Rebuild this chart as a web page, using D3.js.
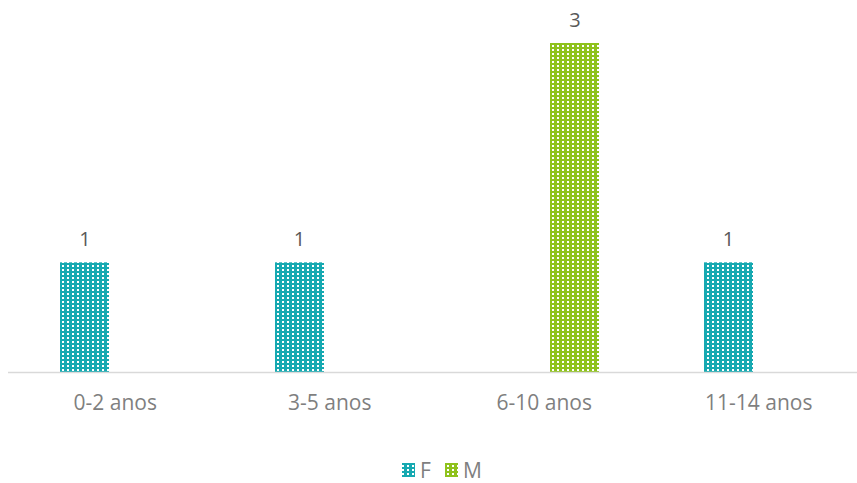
<!DOCTYPE html>
<html>
<head>
<meta charset="utf-8">
<script src="https://cdn.jsdelivr.net/npm/d3@7"></script>
<style>
  html, body { margin: 0; padding: 0; background: #fff; }
  svg { display: block; }
</style>
</head>
<body>
<div id="chart"></div>
<script>
const categories = ["0-2 anos", "3-5 anos", "6-10 anos", "11-14 anos"];
const seriesNames = ["F", "M"];
const valuesF = [1, 1, null, 1];
const valuesM = [null, null, 3, null];
const seriesColors = ["#16a9b1", "#8fc21c"];

const W = 857, H = 483;
const svg = d3.select("#chart").append("svg").attr("width", W).attr("height", H);
const font = "'Open Sans', 'Noto Sans', sans-serif";

const defs = svg.append("defs");
seriesColors.forEach((c, i) => {
  const p = defs.append("pattern")
    .attr("id", "pat" + i)
    .attr("patternUnits", "userSpaceOnUse")
    .attr("width", 5).attr("height", 4);
  p.append("rect").attr("width", 5).attr("height", 4).attr("fill", c);
  p.append("rect").attr("x", 2).attr("y", 1).attr("width", 2).attr("height", 2).attr("fill", "#fff");
});

const x0 = d3.scaleBand().domain(categories).range([8, 866]).paddingInner(0).paddingOuter(0);
const x1 = d3.scaleBand().domain(seriesNames).range([x0.bandwidth() * 0.2436, x0.bandwidth() * 0.759]).paddingInner(0.19).paddingOuter(0);
const y = d3.scaleLinear().domain([0, 3]).range([372, 43]);

const data = [];
categories.forEach((c, i) => {
  [valuesF, valuesM].forEach((arr, s) => {
    if (arr[i] != null) data.push({ cat: c, s: seriesNames[s], si: s, v: arr[i] });
  });
});

svg.append("g").selectAll("rect").data(data).join("rect")
  .attr("x", d => Math.round(x0(d.cat) + x1(d.s)))
  .attr("y", d => y(d.v))
  .attr("width", Math.round(x1.bandwidth()))
  .attr("height", d => y(0) - y(d.v))
  .attr("fill", d => `url(#pat${d.si})`);

svg.append("g").selectAll("text").data(data).join("text")
  .attr("x", d => x0(d.cat) + x1(d.s) + x1.bandwidth() / 2)
  .attr("y", d => y(d.v) - 16)
  .attr("text-anchor", "middle")
  .attr("font-family", font)
  .attr("font-size", 20)
  .attr("fill", "#595959")
  .text(d => d.v);

// baseline
svg.append("line")
  .attr("x1", 8).attr("x2", 866)
  .attr("y1", y(0) + 0.5).attr("y2", y(0) + 0.5)
  .attr("stroke", "#d9d9d9").attr("stroke-width", 1.5);

// category axis labels
const ax = svg.append("g").attr("transform", `translate(0,${y(0)})`)
  .call(d3.axisBottom(x0).tickSize(0).tickPadding(23));
ax.select(".domain").remove();
ax.selectAll("text")
  .attr("font-family", font)
  .attr("font-size", 21)
  .attr("fill", "#7f7f7f");

// legend
const legendX = [402, 445];
const lg = svg.append("g");
seriesNames.forEach((n, i) => {
  lg.append("rect").attr("x", legendX[i]).attr("y", 463).attr("width", 13).attr("height", 14)
    .attr("fill", `url(#pat${i})`);
  lg.append("text").attr("x", legendX[i] + 18).attr("y", 478)
    .attr("font-family", font).attr("font-size", 21).attr("fill", "#7f7f7f").text(n);
});
</script>
</body>
</html>
